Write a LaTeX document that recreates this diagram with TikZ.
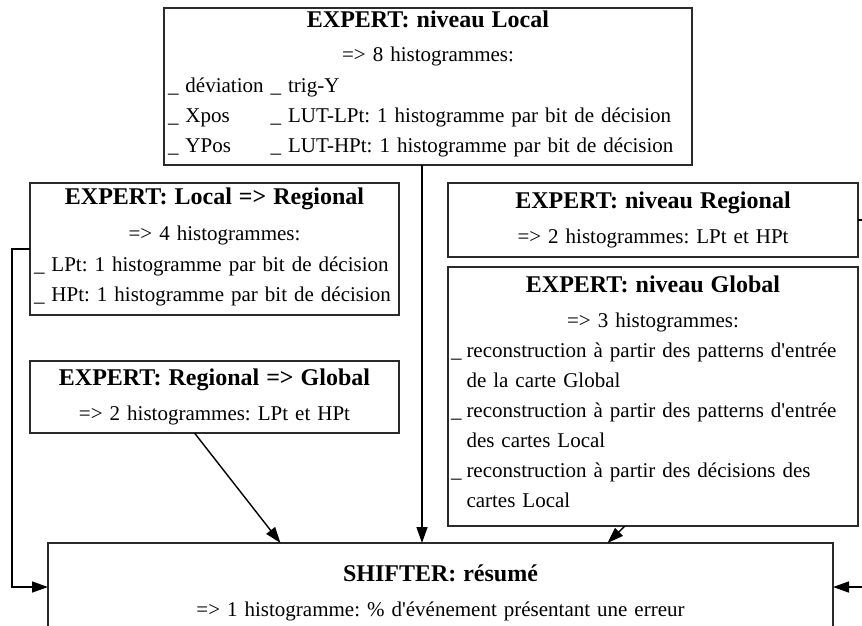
\documentclass[tikz,border=0pt]{standalone}
\usepackage{fontspec}
\setmainfont{Liberation Serif}
\usepackage{tikz}
\usetikzlibrary{arrows.meta, positioning, calc}
\definecolor{boxgray}{HTML}{2A2A2A}
\frenchspacing

\newcommand{\ttl}[1]{{\fontsize{24}{30}\selectfont\bfseries #1}}
\newcommand{\qt}{\textquotesingle}
\newcommand{\leftblock}[1]{\makebox[\hsize][l]{#1}}

\begin{document}
\begin{tikzpicture}[x=1pt, y=-1pt,
    every node/.style={font=\fontsize{21}{30}\selectfont},
    expert/.style={draw=boxgray, line width=1.7pt, align=center,
                   inner sep=0pt, outer sep=0pt},
    link/.style={line width=1.4pt, -{Triangle[length=16pt, width=11pt]}},
]
\clip (0,0) rectangle (862,625);

\node[expert, minimum width=528pt, minimum height=157pt, text width=520pt]
    (loc) at (428,86.5)
    {\ttl{EXPERT: niveau Local}\\[4pt]
     => 8 histogrammes:\\[1pt]
     \leftblock{\begin{tabular}[t]{@{}l@{\hspace{7pt}}l@{}}
       \_ déviation & \_ trig-Y\\
       \_ Xpos      & \_ LUT-LPt: 1 histogramme par bit de décision\\
       \_ YPos      & \_ LUT-HPt: 1 histogramme par bit de décision
     \end{tabular}}};

\node[expert, minimum width=369pt, minimum height=132pt, text width=361pt]
    (l2r) at (214.5,249)
    {\ttl{EXPERT: Local => Regional}\\[6pt]
     => 4 histogrammes:\\[1pt]
     \leftblock{\begin{tabular}[t]{@{}l@{}}
       \_ LPt: 1 histogramme par bit de décision\\
       \_ HPt: 1 histogramme par bit de décision
     \end{tabular}}};

\node[expert, minimum width=369pt, minimum height=72pt, text width=355pt]
    (r2g) at (214.5,397)
    {\ttl{EXPERT: Regional => Global}\\[5pt]
     => 2 histogrammes: LPt et HPt};

\node[expert, minimum width=410pt, minimum height=74pt, text width=400pt]
    (reg) at (653,220)
    {\ttl{EXPERT: niveau Regional}\\[5pt]
     => 2 histogrammes: LPt et HPt};

\node[expert, minimum width=410pt, minimum height=259pt, text width=404pt]
    (glo) at (653,396.5)
    {\ttl{EXPERT: niveau Global}\\[5pt]
     => 3 histogrammes:\\
     \leftblock{\begin{tabular}[t]{@{}l@{\hspace{5pt}}l@{}}
       \_ & reconstruction à partir des patterns d\qt entrée\\
          & de la carte Global\\
       \_ & reconstruction à partir des patterns d\qt entrée\\
          & des cartes Local\\
       \_ & reconstruction à partir des décisions des\\
          & cartes Local
     \end{tabular}}};

\node[expert, minimum width=785pt, minimum height=100pt, text width=770pt]
    (shf) at (440.5,593)
    {\ttl{SHIFTER: résumé}\\[5pt]
     => 1 histogramme: \% d\qt événement présentant une erreur\\[8pt]};

% liaisons vers le resume
\draw[link] (l2r.west) -- ++(-18,0) |- ([yshift=6pt]shf.west);
\draw[link] (reg.east) -- ++(40,0) |- ([yshift=6pt]shf.east);
\draw[link] ([xshift=-6pt]loc.south) -- ([xshift=-6pt]loc.south |- shf.north);
\draw[link] ([xshift=-20pt]r2g.south) -- ([xshift=-160pt]shf.north);
\draw[link] ([xshift=-28pt]glo.south) -- ([xshift=167pt]shf.north);
\end{tikzpicture}
\end{document}
